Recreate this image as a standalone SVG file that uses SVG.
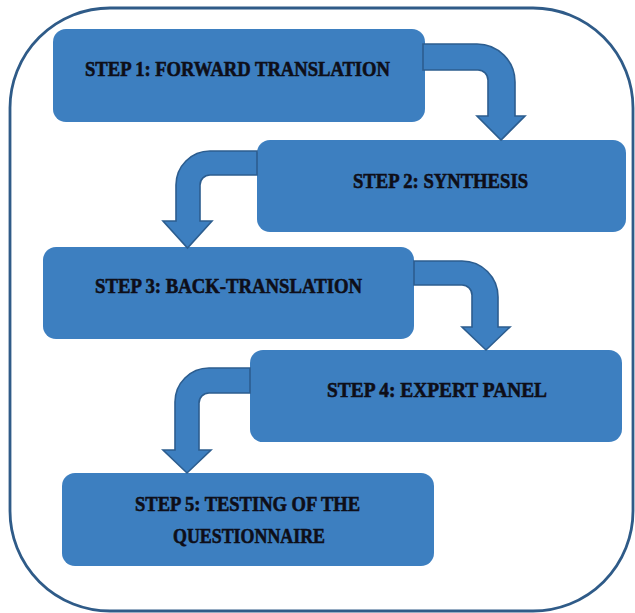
<svg xmlns="http://www.w3.org/2000/svg" width="635" height="613" viewBox="0 0 635 613">
  <style>
    .frame { fill: #ffffff; stroke: #2f5b88; stroke-width: 2.8; }
    .box { fill: #3d7fc0; }
    .arrow { fill: #3d7fc0; stroke: #2c5d8f; stroke-width: 1.6; stroke-linejoin: miter; }
    .lbl { font-family: "Liberation Serif", "DejaVu Serif", serif; font-weight: bold; font-size: 21px; fill: #0e0e18; stroke: #0e0e18; stroke-width: 0.6; }
  </style>
  <rect x="0" y="0" width="635" height="613" fill="#ffffff"/>
  <rect class="frame" x="10" y="8" width="623" height="603" rx="100" ry="100"/>

  <g id="step1">
    <rect class="box" x="53" y="29" width="372" height="93" rx="13"/>
    <text class="lbl" x="85" y="76" textLength="305" lengthAdjust="spacingAndGlyphs">STEP 1: FORWARD TRANSLATION</text>
  </g>
  <g id="step2">
    <rect class="box" x="257" y="140" width="369" height="92" rx="13"/>
    <text class="lbl" x="353" y="188" textLength="175" lengthAdjust="spacingAndGlyphs">STEP 2: SYNTHESIS</text>
  </g>
  <g id="step3">
    <rect class="box" x="43" y="247" width="371" height="92" rx="13"/>
    <text class="lbl" x="95" y="293" textLength="267" lengthAdjust="spacingAndGlyphs">STEP 3: BACK-TRANSLATION</text>
  </g>
  <g id="step4">
    <rect class="box" x="250" y="350" width="372" height="92" rx="13"/>
    <text class="lbl" x="327" y="397" textLength="220" lengthAdjust="spacingAndGlyphs">STEP 4: EXPERT PANEL</text>
  </g>
  <g id="step5">
    <rect class="box" x="62" y="473" width="372" height="93" rx="13"/>
    <text class="lbl" x="135" y="511" textLength="225" lengthAdjust="spacingAndGlyphs">STEP 5: TESTING OF THE</text>
    <text class="lbl" x="173" y="543" textLength="152" lengthAdjust="spacingAndGlyphs">QUESTIONNAIRE</text>
  </g>

  <g id="connectors">
    <path class="arrow" d="M 423 44 H 477 A 38 38 0 0 1 515 82 V 116 H 525 L 501 140 L 477 116 H 488 V 80 A 10 10 0 0 0 478 70 H 423 Z"/>
    <path class="arrow" d="M 257 151 H 210 A 34 34 0 0 0 176 185 V 221 H 163 L 187.5 248 L 212 221 H 200 V 185 A 10 10 0 0 1 210 175 H 257 Z"/>
    <path class="arrow" d="M 414 261 H 462 A 36 36 0 0 1 498 297 V 327 H 510 L 486 350 L 462 327 H 472 V 295 A 10 10 0 0 0 462 285 H 414 Z"/>
    <path class="arrow" d="M 250 368 H 209 A 34 34 0 0 0 175 402 V 450 H 163 L 187 473 L 211 450 H 199 V 403 A 10 10 0 0 1 209 393 H 250 Z"/>
  </g>
</svg>
